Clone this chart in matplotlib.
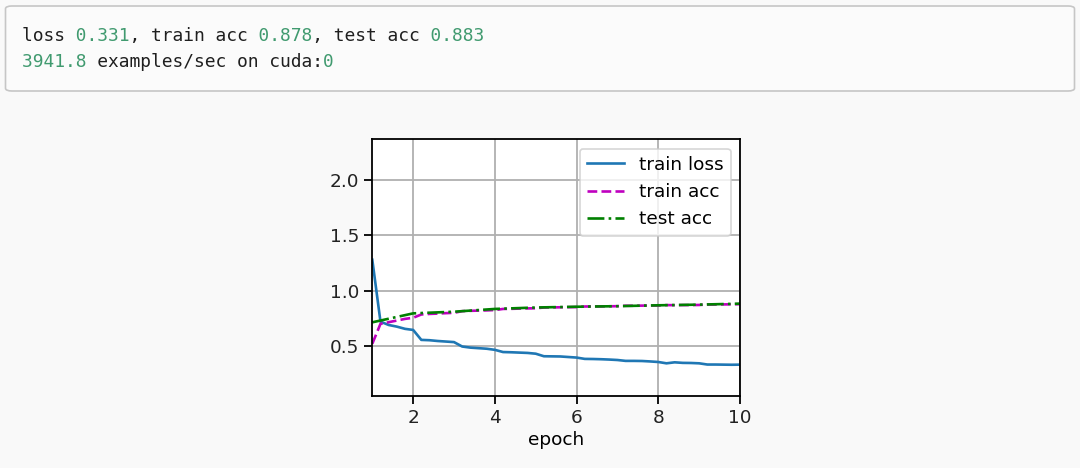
import matplotlib
matplotlib.use("Agg")
import matplotlib.pyplot as plt
from matplotlib.patches import FancyBboxPatch

epochs = [1.0, 1.2, 1.4, 1.6, 1.8, 2.0, 2.2, 2.4, 2.6, 2.8, 3.0, 3.2, 3.4, 3.6, 3.8,
          4.0, 4.2, 4.4, 4.6, 4.8, 5.0, 5.2, 5.4, 5.6, 5.8, 6.0, 6.2, 6.4, 6.6, 6.8,
          7.0, 7.2, 7.4, 7.6, 7.8, 8.0, 8.2, 8.4, 8.6, 8.8, 9.0, 9.2, 9.4, 9.6, 9.8, 10.0]
train_loss = [1.28, 0.72, 0.69, 0.675, 0.655, 0.645, 0.555, 0.552, 0.545, 0.54, 0.535,
              0.495, 0.485, 0.48, 0.475, 0.465, 0.445, 0.443, 0.44, 0.437, 0.43,
              0.407, 0.406, 0.405, 0.40, 0.395, 0.383, 0.382, 0.38, 0.377, 0.373,
              0.365, 0.365, 0.364, 0.36, 0.355, 0.343, 0.352, 0.347, 0.346, 0.343,
              0.332, 0.332, 0.331, 0.33, 0.331]
train_acc = [0.52, 0.70, 0.715, 0.73, 0.745, 0.755, 0.785, 0.79, 0.793, 0.797, 0.80,
             0.815, 0.818, 0.82, 0.822, 0.825, 0.835, 0.836, 0.838, 0.84, 0.841,
             0.848, 0.849, 0.85, 0.851, 0.852, 0.857, 0.858, 0.858, 0.859, 0.86,
             0.864, 0.864, 0.865, 0.866, 0.866, 0.87, 0.869, 0.87, 0.87, 0.871,
             0.875, 0.875, 0.876, 0.877, 0.878]
test_epochs = [1, 2, 3, 4, 5, 6, 7, 8, 9, 10]
test_acc = [0.714, 0.795, 0.81, 0.835, 0.848, 0.855, 0.86, 0.868, 0.874, 0.883]

out_line1 = "loss 0.331, train acc 0.878, test acc 0.883"
out_line2 = "3941.8 examples/sec on cuda:0"

W, H = 1080, 468
bg = "#f9f9f9"
fs = 13.3
fig = plt.figure(figsize=(W / 100, H / 100), dpi=100, facecolor=bg)

# output box on top
box = FancyBboxPatch((5.5 / W, 1 - 91 / H), 1069 / W, 85 / H,
                     boxstyle="round,pad=0,rounding_size=0.006",
                     transform=fig.transFigure, facecolor="#fbfbfb",
                     edgecolor="#c6c6c6", linewidth=1.2)
fig.patches.append(box)


def split_colors(s):
    # digits go green, the rest dark; spaces keep monospace alignment
    num = "".join(c if (c.isdigit() or (c == "." and i > 0 and s[i - 1].isdigit())) else " "
                  for i, c in enumerate(s))
    rest = "".join(" " if n != " " else c for c, n in zip(s, num))
    return rest, num


for s, ypx in [(out_line1, 36), (out_line2, 62)]:
    rest, num = split_colors(s)
    for part, col in [(rest, "#1f1f1f"), (num, "#409a6f")]:
        fig.text(22 / W, 1 - ypx / H, part, color=col, family="DejaVu Sans Mono",
                 fontsize=12.9, va="center", ha="left")

# the training plot
ax = fig.add_axes([372.3 / W, 1 - 395.7 / H, (740 - 372.3) / W, (395.7 - 139.3) / H])
ax.set_facecolor("white")
ax.plot(epochs, train_loss, "-", color="#1f77b4", lw=1.9, label="train loss")
ax.plot(epochs, train_acc, "m--", lw=1.9, label="train acc")
ax.plot(test_epochs, test_acc, "g-.", lw=1.9, label="test acc")
ax.set_xlim(1, 10)
ax.set_ylim(0.05, 2.37)
ax.set_xticks([2, 4, 6, 8, 10])
ax.set_yticks([0.5, 1.0, 1.5, 2.0])
ax.grid(True, color="#b0b0b0", lw=1.3)
ax.set_xlabel("epoch", fontsize=fs, labelpad=3)
ax.tick_params(labelsize=fs, width=1.3, length=6, labelcolor="#222222")
for sp in ax.spines.values():
    sp.set_linewidth(1.3)
leg = ax.legend(fontsize=fs, loc="upper right", handlelength=2.0)
leg.get_frame().set_linewidth(1.2)

fig.savefig("out.png", dpi=100, facecolor=bg)
